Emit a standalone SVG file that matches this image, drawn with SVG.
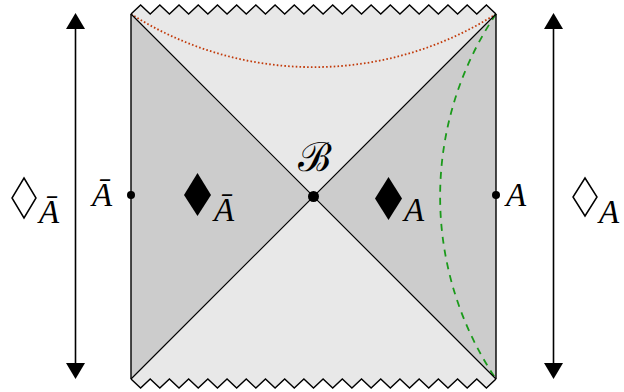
<svg xmlns="http://www.w3.org/2000/svg" width="624" height="392" viewBox="0 0 624 392">
<defs>
<style>
.light{fill:#e8e8e8;stroke:none}
.dark{fill:#cccccc;stroke:none}
.edge{fill:none;stroke:#000;stroke-width:1.4;stroke-linejoin:miter}
.diag{fill:none;stroke:#000;stroke-width:1.2}
.lbl{font-family:"Liberation Serif","DejaVu Serif",serif;font-style:italic;font-size:33px;fill:#000}
.arrow{stroke:#000;stroke-width:1.6;fill:none}
</style>
<marker id="ah" viewBox="0 0 16 19" markerWidth="16" markerHeight="19" refX="0" refY="9.5" markerUnits="userSpaceOnUse" orient="auto-start-reverse">
<path d="M0,0 L16,9.5 L0,19 z" fill="#000"/>
</marker>
</defs>
<g id="regions">
<path class="light" d="M131,14 L496,14 L313.5,196.5 Z M131,379 L496,379 L313.5,196.5 Z"/>
<path class="light" d="M131,14 l9.605,-9 9.605,9 9.605,-9 9.605,9 9.605,-9 9.605,9 9.605,-9 9.605,9 9.605,-9 9.605,9 9.605,-9 9.605,9 9.605,-9 9.605,9 9.605,-9 9.605,9 9.605,-9 9.605,9 9.605,-9 9.605,9 9.605,-9 9.605,9 9.605,-9 9.605,9 9.605,-9 9.605,9 9.605,-9 9.605,9 9.605,-9 9.605,9 9.605,-9 9.605,9 9.605,-9 9.605,9 9.605,-9 9.605,9 9.605,-9 9.605,9 Z"/>
<path class="light" d="M131,379 l9.605,9 9.605,-9 9.605,9 9.605,-9 9.605,9 9.605,-9 9.605,9 9.605,-9 9.605,9 9.605,-9 9.605,9 9.605,-9 9.605,9 9.605,-9 9.605,9 9.605,-9 9.605,9 9.605,-9 9.605,9 9.605,-9 9.605,9 9.605,-9 9.605,9 9.605,-9 9.605,9 9.605,-9 9.605,9 9.605,-9 9.605,9 9.605,-9 9.605,9 9.605,-9 9.605,9 9.605,-9 9.605,9 9.605,-9 9.605,9 9.605,-9 Z"/>
<path class="dark" d="M131,14 L313.5,196.5 L131,379 Z"/>
<path class="dark" d="M496,14 L313.5,196.5 L496,379 Z"/>
</g>
<g id="curves">
<path d="M131,14 A340 340 0 0 0 496,14" fill="none" stroke="#c23a0a" stroke-width="1.8" stroke-dasharray="1.6,2.2"/>
<path d="M496,14 A326 326 0 0 0 496,379" fill="none" stroke="#1a9a1a" stroke-width="1.8" stroke-dasharray="7,6"/>
</g>
<g id="connectors">
<path class="diag" d="M131,14 L496,379 M131,379 L496,14"/>
<path class="edge" d="M131,14 L131,379 M496,14 L496,379"/>
<path class="edge" d="M131,14 l9.605,-9 9.605,9 9.605,-9 9.605,9 9.605,-9 9.605,9 9.605,-9 9.605,9 9.605,-9 9.605,9 9.605,-9 9.605,9 9.605,-9 9.605,9 9.605,-9 9.605,9 9.605,-9 9.605,9 9.605,-9 9.605,9 9.605,-9 9.605,9 9.605,-9 9.605,9 9.605,-9 9.605,9 9.605,-9 9.605,9 9.605,-9 9.605,9 9.605,-9 9.605,9 9.605,-9 9.605,9 9.605,-9 9.605,9 9.605,-9 9.605,9"/>
<path class="edge" d="M131,379 l9.605,9 9.605,-9 9.605,9 9.605,-9 9.605,9 9.605,-9 9.605,9 9.605,-9 9.605,9 9.605,-9 9.605,9 9.605,-9 9.605,9 9.605,-9 9.605,9 9.605,-9 9.605,9 9.605,-9 9.605,9 9.605,-9 9.605,9 9.605,-9 9.605,9 9.605,-9 9.605,9 9.605,-9 9.605,9 9.605,-9 9.605,9 9.605,-9 9.605,9 9.605,-9 9.605,9 9.605,-9 9.605,9 9.605,-9 9.605,9 9.605,-9"/>
<line class="arrow" x1="75.5" y1="363" x2="75.5" y2="29" marker-start="url(#ah)" marker-end="url(#ah)"/>
<line class="arrow" x1="553.5" y1="363" x2="553.5" y2="29" marker-start="url(#ah)" marker-end="url(#ah)"/>
</g>
<g id="node-B">
<circle cx="313.5" cy="196.5" r="5.5" fill="#000"/>
<text class="lbl" x="298" y="171" style="font-style:normal;font-family:'DejaVu Serif',serif;font-size:40px">ℬ</text>
</g>
<g id="node-Abar-dot">
<circle cx="131" cy="195" r="4" fill="#000"/>
<text class="lbl" x="92" y="206">Ā</text>
</g>
<g id="node-A-dot">
<circle cx="496" cy="195" r="4" fill="#000"/>
<text class="lbl" x="506" y="206">A</text>
</g>
<g id="node-Abar-diamond">
<path d="M197.5,173 L211,195 L197.5,216 L184,195 Z" fill="#000"/>
<text class="lbl" x="214" y="221">Ā</text>
</g>
<g id="node-A-diamond">
<path d="M388.5,177 L402,198.5 L388.5,220 L375,198.5 Z" fill="#000"/>
<text class="lbl" x="404" y="221">A</text>
</g>
<g id="node-Abar-outline">
<path d="M24,178 L36,198 L24,218 L12,198 Z" fill="none" stroke="#000" stroke-width="1.5"/>
<text class="lbl" x="39" y="223">Ā</text>
</g>
<g id="node-A-outline">
<path d="M585,178 L597,197 L585,216 L573,197 Z" fill="none" stroke="#000" stroke-width="1.5"/>
<text class="lbl" x="599" y="223">A</text>
</g>
</svg>
